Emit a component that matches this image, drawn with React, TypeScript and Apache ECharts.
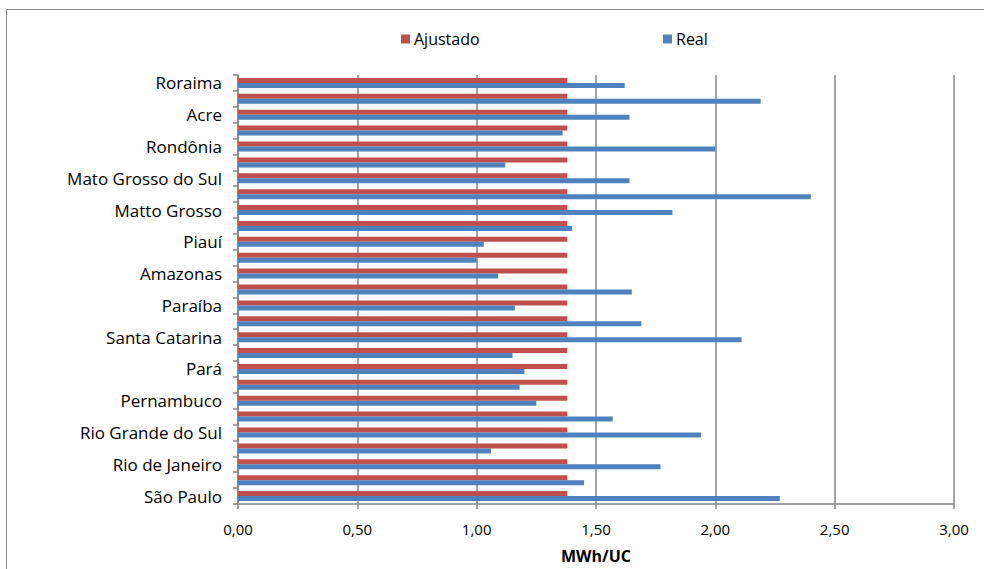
import React, { useEffect, useRef } from "react";
import * as echarts from "echarts";

// States, listed from the bottom of the axis to the top
const states = [
  "São Paulo", "Minas Gerais", "Rio de Janeiro", "Bahia", "Rio Grande do Sul",
  "Paraná", "Pernambuco", "Ceará", "Pará", "Maranhão", "Santa Catarina",
  "Goiás", "Paraíba", "Espírito Santo", "Amazonas", "Rio Grande do Norte",
  "Piauí", "Alagoas", "Matto Grosso", "Distrito Federal", "Mato Grosso do Sul",
  "Sergipe", "Rondônia", "Tocantins", "Acre", "Amapá", "Roraima",
];

// Adjusted consumption (MWh per consumer unit)
const ajustado = [
  1.38, 1.38, 1.38, 1.38, 1.38, 1.38, 1.38, 1.38, 1.38, 1.38, 1.38, 1.38, 1.38, 1.38,
  1.38, 1.38, 1.38, 1.38, 1.38, 1.38, 1.38, 1.38, 1.38, 1.38, 1.38, 1.38, 1.38,
];

// Actual consumption (MWh per consumer unit)
const real = [
  2.27, 1.45, 1.77, 1.06, 1.94, 1.57, 1.25, 1.18, 1.2, 1.15, 2.11, 1.69, 1.16, 1.65,
  1.09, 1.0, 1.03, 1.4, 1.82, 2.4, 1.64, 1.12, 2.0, 1.36, 1.64, 2.19, 1.62,
];

const xTicks = { min: 0, max: 3, interval: 0.5 };
const axisName = "MWh/UC";

const FONT = "'Open Sans', sans-serif";
const GRAY = "#868686";
const RED = "#C0504D";
const BLUE = "#4F81BD";

export default function App() {
  const ref = useRef<HTMLDivElement>(null);

  useEffect(() => {
    if (!ref.current) return;
    const chart = echarts.init(ref.current, null, { renderer: "svg" });
    const legendText = { fontFamily: FONT, fontSize: 16, color: "#000", padding: [0, 0, 0, -1] };
    chart.setOption({
      animation: false,
      backgroundColor: "#fff",
      textStyle: { fontFamily: FONT },
      graphic: [
        {
          type: "rect",
          z: -1,
          shape: { x: 6.5, y: 9.5, width: 1000, height: 600 },
          style: { fill: "none", stroke: GRAY, lineWidth: 1 },
        },
      ],
      legend: [
        {
          data: ["Ajustado"],
          left: 396,
          top: 26,
          icon: "rect",
          itemWidth: 9,
          itemHeight: 9,
          textStyle: legendText,
        },
        {
          data: ["Real"],
          left: 658,
          top: 26,
          icon: "rect",
          itemWidth: 9,
          itemHeight: 9,
          textStyle: legendText,
        },
      ],
      grid: { left: 238, right: 30, top: 75, bottom: 59, containLabel: false },
      xAxis: {
        type: "value",
        min: xTicks.min,
        max: xTicks.max,
        interval: xTicks.interval,
        name: axisName,
        nameLocation: "middle",
        nameGap: 44,
        nameTextStyle: { fontFamily: FONT, fontSize: 16, fontWeight: "bold", color: "#000" },
        axisLine: { show: true, lineStyle: { color: GRAY, width: 1.5 } },
        axisTick: { show: true, length: 5, lineStyle: { color: GRAY, width: 1.5 } },
        splitLine: { show: true, lineStyle: { color: GRAY, width: 1.5 } },
        axisLabel: {
          margin: 17,
          fontFamily: FONT,
          fontSize: 15,
          color: "#000",
          formatter: (v: number) => v.toFixed(2).replace(".", ","),
        },
      },
      yAxis: {
        type: "category",
        data: states,
        axisLine: { show: true, lineStyle: { color: GRAY, width: 1.5 } },
        axisTick: { show: true, interval: 0, length: 5, lineStyle: { color: GRAY, width: 1.5 } },
        axisLabel: { interval: 1, margin: 16, fontFamily: FONT, fontSize: 17, color: "#000" },
        splitLine: { show: false },
      },
      series: [
        {
          name: "Ajustado",
          type: "bar",
          data: ajustado,
          barWidth: 5,
          barGap: "0%",
          itemStyle: { color: RED },
        },
        {
          name: "Real",
          type: "bar",
          data: real,
          barWidth: 5,
          barGap: "0%",
          itemStyle: { color: BLUE },
        },
      ],
    });
    return () => chart.dispose();
  }, []);

  return (
    <div
      ref={ref}
      style={{ position: "fixed", left: 0, top: 0, width: 984, height: 569, background: "#fff" }}
    />
  );
}
